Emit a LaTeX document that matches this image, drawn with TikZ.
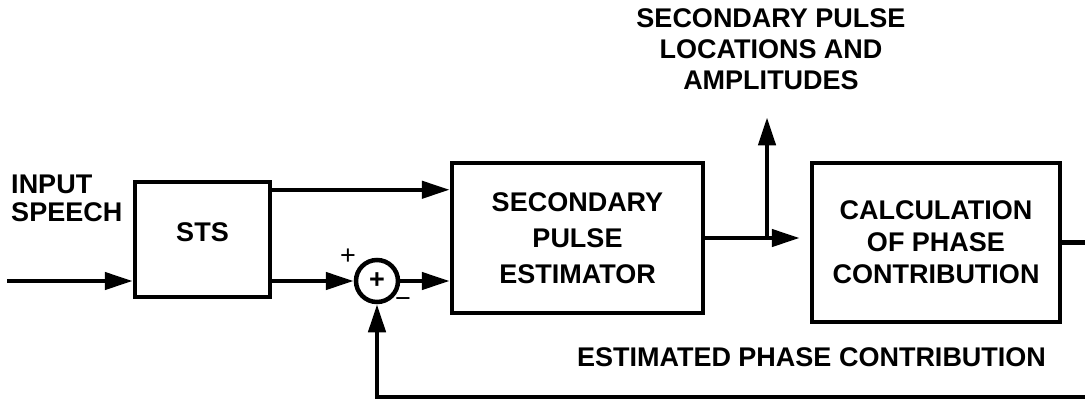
\documentclass[tikz,border=0pt]{standalone}
\usepackage{fontspec}
\setmainfont{Liberation Sans}
\usetikzlibrary{arrows.meta}

\begin{document}
\begin{tikzpicture}[
  x=1pt, y=-1pt,
  line width=4.5pt,
  box/.style={draw, align=center, inner sep=0pt, font=\fontsize{27}{32}\selectfont\bfseries},
  junction/.style={draw, circle, minimum size=42pt, inner sep=0pt, font=\fontsize{27}{27}\selectfont\bfseries},
  arr/.style={-{Triangle[length=28pt, width=17pt]}},
  lbl/.style={align=center, inner sep=0pt, font=\fontsize{27}{31}\selectfont\bfseries},
  sign/.style={inner sep=0pt, font=\fontsize{27}{27}\selectfont},
]
  \useasboundingbox (0,0) rectangle (1085,400);

  % blocks
  \node[box, minimum width=135pt, minimum height=115pt] (sts) at (202.5,239.5) {\raisebox{15pt}{STS}};
  \node[box, minimum width=251pt, minimum height=150pt, font=\fontsize{27}{36}\selectfont\bfseries] (spe) at (577.5,238)
    {SECONDARY\\ PULSE\\ ESTIMATOR};
  \node[box, minimum width=248pt, minimum height=159pt] (calc) at (936,242.5)
    {CALCULATION\\ OF PHASE\\ CONTRIBUTION};
  \node[junction] (sum) at (377,281) {+};

  % labels
  \node[lbl, align=left, anchor=west, font=\fontsize{27}{28}\selectfont\bfseries] (speech) at (9,198) {INPUT\\ SPEECH};
  \node[lbl] (pulses) at (771,49.5) {SECONDARY PULSE\\ LOCATIONS AND\\ AMPLITUDES};
  \node[lbl] (phase) at (811.5,357) {ESTIMATED PHASE CONTRIBUTION};
  \node[sign] (plus) at (348,257) {+};
  \node[sign] (minus) at (403,303) {−};

  % points off the blocks
  \coordinate (in) at (7,281);
  \coordinate (stsout) at ([yshift=-10pt]sts.north east);
  \coordinate (branch) at (767,238);
  \coordinate (out) at (1085,242.5);
  \coordinate (back) at (1085,397);

  % signal paths
  \draw[arr] (in) -- (in -| sts.west);
  \draw[arr] (stsout) -- (stsout -| spe.west);
  \draw[arr] (sts.east |- sum) -- (sum);
  \draw[arr] (sum) -- (sum -| spe.west);
  \draw[arr, shorten >=10pt] (spe.east |- branch) -- (branch -| calc.west);
  \draw[arr, shorten >=25pt] (branch) -- (branch |- pulses.south);
  \draw (calc.east |- out) -- (out);
  \draw[arr] (back) -- (back -| sum) -- (sum);
\end{tikzpicture}
\end{document}
